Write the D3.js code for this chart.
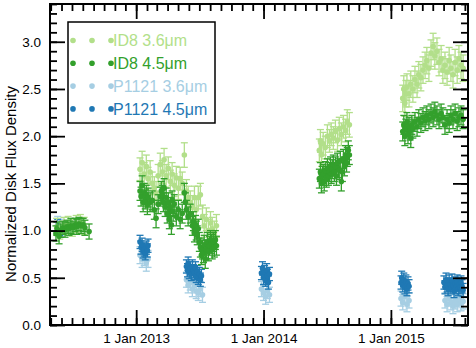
<!DOCTYPE html>
<html>
<head>
<meta charset="utf-8">
<script src="https://cdn.jsdelivr.net/npm/d3@7"></script>
<style>
  body { margin: 0; background: #fff; }
  svg { font-family: "Liberation Sans", Arial, sans-serif; }
</style>
</head>
<body>
<script>
// each point: [date, normalized flux, error]
const id8_36 = [
  ["2012-05-18",1.04,0.09],["2012-05-27",1.00,0.09],["2012-06-08",1.05,0.09],["2012-06-20",1.06,0.09],
  ["2012-07-02",1.03,0.09],["2012-07-13",1.07,0.09],["2012-07-25",1.08,0.09],["2012-08-05",1.05,0.09],
  ["2013-01-12",1.65,0.12],["2013-01-18",1.72,0.12],["2013-01-24",1.60,0.12],["2013-01-30",1.68,0.12],
  ["2013-02-04",1.55,0.12],["2013-02-10",1.62,0.12],["2013-02-16",1.50,0.12],["2013-02-22",1.45,0.12],
  ["2013-02-27",1.40,0.12],["2013-03-05",1.58,0.12],["2013-03-11",1.70,0.12],["2013-03-17",1.62,0.12],
  ["2013-03-22",1.75,0.12],["2013-03-28",1.58,0.12],["2013-04-03",1.66,0.12],["2013-04-09",1.52,0.12],
  ["2013-04-14",1.60,0.12],["2013-04-20",1.48,0.12],["2013-04-26",1.56,0.12],["2013-05-02",1.45,0.12],
  ["2013-05-07",1.55,0.12],["2013-05-13",1.50,0.12],["2013-05-19",1.80,0.13],["2013-05-25",1.42,0.12],
  ["2013-05-30",1.35,0.12],["2013-06-05",1.30,0.12],["2013-06-11",1.25,0.12],["2013-06-17",1.35,0.12],
  ["2013-06-22",1.22,0.12],["2013-06-28",1.35,0.12],["2013-07-04",1.38,0.12],["2013-07-10",1.15,0.12],
  ["2013-07-15",1.05,0.12],["2013-07-21",1.12,0.12],["2013-07-27",1.00,0.12],["2013-08-02",1.08,0.12],
  ["2013-08-07",1.02,0.12],["2013-08-13",0.98,0.12],["2013-08-19",1.05,0.12],
  ["2014-06-10",1.85,0.12],["2014-06-13",1.95,0.12],["2014-06-16",1.80,0.12],["2014-06-21",1.92,0.12],
  ["2014-06-27",1.88,0.12],["2014-07-03",2.00,0.12],["2014-07-09",1.95,0.12],["2014-07-14",2.02,0.12],
  ["2014-07-20",1.98,0.12],["2014-07-26",2.05,0.12],["2014-08-01",1.96,0.12],["2014-08-06",2.08,0.12],
  ["2014-08-12",2.02,0.12],["2014-08-18",2.10,0.12],["2014-08-24",2.06,0.12],["2014-08-29",2.15,0.13],
  ["2014-09-04",2.12,0.13],
  ["2015-02-04",2.40,0.14],["2015-02-07",2.50,0.14],["2015-02-10",2.35,0.14],["2015-02-13",2.45,0.14],
  ["2015-02-16",2.52,0.14],["2015-02-22",2.45,0.14],["2015-02-27",2.55,0.14],["2015-03-05",2.50,0.14],
  ["2015-03-11",2.60,0.14],["2015-03-17",2.55,0.14],["2015-03-22",2.65,0.14],["2015-03-28",2.62,0.14],
  ["2015-04-03",2.70,0.14],["2015-04-09",2.75,0.14],["2015-04-14",2.80,0.14],["2015-04-20",2.72,0.14],
  ["2015-04-26",2.88,0.14],["2015-05-02",2.95,0.14],["2015-05-07",2.85,0.14],["2015-05-13",2.90,0.14],
  ["2015-05-19",2.78,0.14],["2015-05-25",2.82,0.14],["2015-05-30",2.70,0.14],["2015-06-05",2.75,0.14],
  ["2015-06-11",2.68,0.14],["2015-06-17",2.80,0.14],["2015-06-22",2.72,0.14],["2015-06-28",2.65,0.14],
  ["2015-07-04",2.78,0.14],["2015-07-10",2.70,0.14],["2015-07-15",2.82,0.14],["2015-07-21",2.75,0.14],
  ["2015-07-27",2.72,0.14]
];

const id8_45 = [
  ["2012-05-16",0.97,0.08],["2012-05-19",1.02,0.07],["2012-05-25",0.94,0.08],["2012-05-30",1.00,0.07],
  ["2012-06-05",1.03,0.07],["2012-06-11",1.01,0.08],["2012-06-17",1.04,0.07],["2012-06-22",1.02,0.07],
  ["2012-06-28",1.05,0.08],["2012-07-04",1.03,0.07],["2012-07-10",1.06,0.07],["2012-07-15",1.04,0.08],
  ["2012-07-21",1.07,0.07],["2012-07-27",1.05,0.08],["2012-08-02",1.06,0.07],["2012-08-07",1.03,0.08],
  ["2012-08-19",0.99,0.08],
  ["2013-01-12",1.42,0.10],["2013-01-15",1.36,0.10],["2013-01-18",1.48,0.10],["2013-01-21",1.30,0.10],
  ["2013-01-24",1.40,0.10],["2013-01-27",1.33,0.10],["2013-01-30",1.38,0.10],["2013-02-02",1.27,0.10],
  ["2013-02-04",1.35,0.10],["2013-02-10",1.30,0.10],["2013-02-16",1.32,0.10],["2013-02-22",1.22,0.10],
  ["2013-02-27",1.13,0.10],["2013-03-05",1.28,0.10],["2013-03-11",1.36,0.10],["2013-03-14",1.42,0.10],
  ["2013-03-17",1.38,0.10],["2013-03-20",1.30,0.10],["2013-03-22",1.45,0.10],["2013-03-25",1.25,0.10],
  ["2013-03-28",1.35,0.10],["2013-03-31",1.18,0.10],["2013-04-03",1.30,0.10],["2013-04-06",1.12,0.10],
  ["2013-04-09",1.25,0.10],["2013-04-12",1.06,0.10],["2013-04-14",1.32,0.10],["2013-04-17",1.20,0.10],
  ["2013-04-20",1.28,0.10],["2013-04-26",1.15,0.10],["2013-05-02",1.22,0.10],["2013-05-07",1.12,0.10],
  ["2013-05-13",1.18,0.10],["2013-05-19",1.40,0.10],["2013-05-22",1.30,0.10],["2013-05-25",1.22,0.10],
  ["2013-05-30",1.15,0.10],["2013-06-05",1.18,0.10],["2013-06-11",1.05,0.10],["2013-06-14",1.10,0.10],
  ["2013-06-17",0.98,0.10],["2013-06-20",1.06,0.10],["2013-06-22",1.00,0.10],["2013-06-25",0.95,0.10],
  ["2013-06-28",1.02,0.10],["2013-07-01",0.88,0.10],["2013-07-04",0.82,0.10],["2013-07-07",0.74,0.10],
  ["2013-07-10",0.80,0.10],["2013-07-13",0.76,0.10],["2013-07-15",0.85,0.10],["2013-07-18",0.70,0.10],
  ["2013-07-21",0.80,0.10],["2013-07-24",0.88,0.10],["2013-07-27",0.78,0.10],["2013-07-30",0.84,0.10],
  ["2013-08-02",0.90,0.10],["2013-08-05",0.86,0.10],["2013-08-07",0.80,0.10],["2013-08-10",0.88,0.10],
  ["2013-08-13",0.82,0.10],["2013-08-16",0.90,0.10],["2013-08-19",0.84,0.10],
  ["2014-06-10",1.55,0.10],["2014-06-13",1.62,0.10],["2014-06-16",1.50,0.10],["2014-06-19",1.58,0.10],
  ["2014-06-21",1.60,0.10],["2014-06-24",1.52,0.10],["2014-06-27",1.63,0.10],["2014-06-30",1.56,0.10],
  ["2014-07-03",1.66,0.10],["2014-07-06",1.58,0.10],["2014-07-09",1.62,0.10],["2014-07-12",1.68,0.10],
  ["2014-07-14",1.60,0.10],["2014-07-17",1.65,0.10],["2014-07-20",1.70,0.10],["2014-07-23",1.62,0.10],
  ["2014-07-26",1.68,0.10],["2014-07-29",1.58,0.10],["2014-08-01",1.72,0.10],["2014-08-04",1.66,0.10],
  ["2014-08-06",1.64,0.10],["2014-08-09",1.74,0.10],["2014-08-12",1.52,0.10],["2014-08-15",1.62,0.10],
  ["2014-08-18",1.76,0.10],["2014-08-21",1.68,0.10],["2014-08-24",1.80,0.10],["2014-08-27",1.72,0.10],
  ["2014-08-29",1.78,0.10],["2014-09-01",1.85,0.10],["2014-09-04",1.80,0.10],
  ["2015-02-04",2.05,0.10],["2015-02-07",2.12,0.10],["2015-02-10",2.00,0.10],["2015-02-13",2.08,0.10],
  ["2015-02-16",2.15,0.10],["2015-02-19",2.02,0.10],["2015-02-22",2.10,0.10],["2015-02-25",2.06,0.10],
  ["2015-02-27",1.98,0.10],["2015-03-02",2.12,0.10],["2015-03-05",2.08,0.10],["2015-03-11",2.15,0.10],
  ["2015-03-17",2.10,0.10],["2015-03-22",2.18,0.10],["2015-03-28",2.14,0.10],["2015-04-03",2.20,0.10],
  ["2015-04-09",2.16,0.10],["2015-04-14",2.22,0.10],["2015-04-20",2.18,0.10],["2015-04-26",2.24,0.10],
  ["2015-05-02",2.20,0.10],["2015-05-07",2.26,0.10],["2015-05-13",2.22,0.10],["2015-05-19",2.18,0.10],
  ["2015-05-25",2.24,0.10],["2015-05-30",2.20,0.10],["2015-06-05",2.12,0.10],["2015-06-11",2.18,0.10],
  ["2015-06-17",2.14,0.10],["2015-06-22",2.22,0.10],["2015-06-28",2.18,0.10],["2015-07-04",2.24,0.10],
  ["2015-07-10",2.16,0.10],["2015-07-15",2.20,0.10],["2015-07-21",2.22,0.10],["2015-07-27",2.18,0.10]
];

const p1121_36 = [
  ["2012-05-21",1.06,0.09],["2012-05-27",1.03,0.09],
  ["2013-01-12",0.74,0.09],["2013-01-18",0.70,0.09],["2013-01-24",0.72,0.09],["2013-01-30",0.66,0.09],
  ["2013-02-04",0.70,0.09],
  ["2013-05-25",0.48,0.08],["2013-05-30",0.42,0.08],["2013-06-05",0.45,0.08],["2013-06-11",0.38,0.08],
  ["2013-06-17",0.42,0.08],["2013-06-22",0.36,0.08],["2013-06-28",0.34,0.08],["2013-07-04",0.38,0.08],
  ["2013-07-10",0.32,0.08],
  ["2013-12-26",0.38,0.08],["2014-01-01",0.34,0.08],["2014-01-07",0.30,0.08],["2014-01-12",0.36,0.08],
  ["2014-01-18",0.32,0.08],
  ["2015-01-30",0.28,0.08],["2015-02-04",0.24,0.08],["2015-02-10",0.30,0.08],["2015-02-16",0.22,0.08],
  ["2015-02-22",0.26,0.08],
  ["2015-06-05",0.26,0.08],["2015-06-11",0.22,0.08],["2015-06-17",0.28,0.08],["2015-06-22",0.24,0.08],
  ["2015-06-28",0.20,0.08],["2015-07-04",0.25,0.08],["2015-07-10",0.22,0.08],["2015-07-15",0.27,0.08],
  ["2015-07-21",0.23,0.08],["2015-07-27",0.25,0.08]
];

const p1121_45 = [
  ["2012-05-21",1.05,0.07],["2012-05-27",1.02,0.07],
  ["2013-01-12",0.88,0.07],["2013-01-15",0.82,0.07],["2013-01-18",0.85,0.07],["2013-01-21",0.78,0.07],
  ["2013-01-24",0.80,0.07],["2013-01-27",0.76,0.07],["2013-01-30",0.82,0.07],["2013-02-02",0.79,0.07],
  ["2013-02-04",0.84,0.07],
  ["2013-05-25",0.62,0.07],["2013-05-28",0.58,0.07],["2013-05-30",0.65,0.07],["2013-06-02",0.56,0.07],
  ["2013-06-05",0.60,0.07],["2013-06-08",0.54,0.07],["2013-06-11",0.62,0.07],["2013-06-14",0.57,0.07],
  ["2013-06-17",0.55,0.07],["2013-06-20",0.60,0.07],["2013-06-22",0.52,0.07],["2013-06-25",0.56,0.07],
  ["2013-06-28",0.50,0.07],["2013-07-01",0.54,0.07],["2013-07-04",0.48,0.07],["2013-07-07",0.52,0.07],
  ["2013-12-26",0.55,0.07],["2013-12-29",0.60,0.07],["2014-01-01",0.50,0.07],["2014-01-04",0.56,0.07],
  ["2014-01-07",0.48,0.07],["2014-01-10",0.58,0.07],["2014-01-12",0.52,0.07],["2014-01-15",0.45,0.07],
  ["2014-01-18",0.54,0.07],
  ["2015-01-30",0.45,0.07],["2015-02-01",0.50,0.07],["2015-02-04",0.42,0.07],["2015-02-07",0.48,0.07],
  ["2015-02-10",0.40,0.07],["2015-02-13",0.46,0.07],["2015-02-16",0.38,0.07],["2015-02-19",0.44,0.07],
  ["2015-02-22",0.41,0.07],
  ["2015-06-02",0.45,0.07],["2015-06-05",0.40,0.07],["2015-06-08",0.48,0.07],["2015-06-11",0.42,0.07],
  ["2015-06-14",0.38,0.07],["2015-06-17",0.46,0.07],["2015-06-20",0.43,0.07],["2015-06-22",0.40,0.07],
  ["2015-06-25",0.47,0.07],["2015-06-28",0.42,0.07],["2015-07-01",0.36,0.07],["2015-07-04",0.44,0.07],
  ["2015-07-07",0.40,0.07],["2015-07-10",0.46,0.07],["2015-07-13",0.38,0.07],["2015-07-15",0.43,0.07],
  ["2015-07-18",0.40,0.07],["2015-07-21",0.45,0.07],["2015-07-24",0.41,0.07],["2015-07-27",0.37,0.07]
];

const seriesNames = ["ID8 3.6μm", "ID8 4.5μm", "P1121 3.6μm", "P1121 4.5μm"];
const seriesColors = ["#b2df8a", "#33a02c", "#a6cee3", "#1f78b4"];
const xMajorTicks = ["2013-01-01", "2014-01-01", "2015-01-01"];
const yMajorTicks = [0, 0.5, 1.0, 1.5, 2.0, 2.5, 3.0];
const xDomain = ["2012-04-29", "2015-08-10"];
const yDomain = [0, 3.4];

const width = 476, height = 348;
const plot = {left: 50, right: 468, top: 4, bottom: 325};
const parse = d3.timeParse("%Y-%m-%d");

const x = d3.scaleTime()
  .domain(xDomain.map(parse))
  .range([plot.left, plot.right]);

const y = d3.scaleLinear()
  .domain(yDomain)
  .range([plot.bottom, plot.top]);

const svg = d3.select("body")
  .append("svg")
  .attr("width", width)
  .attr("height", height);

// data, P1121 drawn first so ID8 sits on top
const series = [
  {data: p1121_36, color: seriesColors[2]},
  {data: p1121_45, color: seriesColors[3]},
  {data: id8_36, color: seriesColors[0]},
  {data: id8_45, color: seriesColors[1]}
];

series.forEach((s) => {
  const g = svg.append("g").attr("stroke", s.color).attr("fill", s.color);
  const bars = g.selectAll("g.err")
    .data(s.data)
    .enter()
    .append("g")
    .attr("class", "err")
    .attr("stroke-width", 1.3);
  bars.append("line")
    .attr("x1", (d) => x(parse(d[0])))
    .attr("x2", (d) => x(parse(d[0])))
    .attr("y1", (d) => y(d[1] - d[2]))
    .attr("y2", (d) => y(d[1] + d[2]));
  bars.append("line")
    .attr("x1", (d) => x(parse(d[0])) - 3.5)
    .attr("x2", (d) => x(parse(d[0])) + 3.5)
    .attr("y1", (d) => y(d[1] - d[2]))
    .attr("y2", (d) => y(d[1] - d[2]));
  bars.append("line")
    .attr("x1", (d) => x(parse(d[0])) - 3.5)
    .attr("x2", (d) => x(parse(d[0])) + 3.5)
    .attr("y1", (d) => y(d[1] + d[2]))
    .attr("y2", (d) => y(d[1] + d[2]));
  g.selectAll("circle")
    .data(s.data)
    .enter()
    .append("circle")
    .attr("cx", (d) => x(parse(d[0])))
    .attr("cy", (d) => y(d[1]))
    .attr("r", 2.8)
    .attr("stroke", "none");
});

// axes, all ticks pointing inward
const yMinor = d3.range(0, 3.41, 0.1);
const xMinor = x.ticks(d3.timeMonth.every(1));
const fontSize = "13.5px";

function styleAxis(g) {
  g.select(".domain").remove();
  g.selectAll(".tick line").attr("stroke", "#000").attr("stroke-width", 1.8);
  g.selectAll("text").style("font-size", fontSize).attr("fill", "#000");
}

svg.append("g")
  .attr("transform", "translate(0," + plot.bottom + ")")
  .call(d3.axisBottom(x).tickValues(xMinor).tickSize(-7).tickFormat(""))
  .call(styleAxis);
svg.append("g")
  .attr("transform", "translate(0," + plot.bottom + ")")
  .call(d3.axisBottom(x).tickValues(xMajorTicks.map(parse)).tickSize(-15).tickPadding(8)
    .tickFormat(d3.timeFormat("1 Jan %Y")))
  .call(styleAxis);

svg.append("g")
  .attr("transform", "translate(0," + plot.top + ")")
  .call(d3.axisTop(x).tickValues(xMinor).tickSize(-7).tickFormat(""))
  .call(styleAxis);
svg.append("g")
  .attr("transform", "translate(0," + plot.top + ")")
  .call(d3.axisTop(x).tickValues(xMajorTicks.map(parse)).tickSize(-15).tickFormat(""))
  .call(styleAxis);

svg.append("g")
  .attr("transform", "translate(" + plot.left + ",0)")
  .call(d3.axisLeft(y).tickValues(yMinor).tickSize(-7).tickFormat(""))
  .call(styleAxis);
svg.append("g")
  .attr("transform", "translate(" + plot.left + ",0)")
  .call(d3.axisLeft(y).tickValues(yMajorTicks).tickSize(-15).tickPadding(9)
    .tickFormat(d3.format(".1f")))
  .call(styleAxis);

svg.append("g")
  .attr("transform", "translate(" + plot.right + ",0)")
  .call(d3.axisRight(y).tickValues(yMinor).tickSize(-7).tickFormat(""))
  .call(styleAxis);
svg.append("g")
  .attr("transform", "translate(" + plot.right + ",0)")
  .call(d3.axisRight(y).tickValues(yMajorTicks).tickSize(-15).tickFormat(""))
  .call(styleAxis);

svg.append("rect")
  .attr("x", plot.left)
  .attr("y", plot.top)
  .attr("width", plot.right - plot.left)
  .attr("height", plot.bottom - plot.top)
  .attr("fill", "none")
  .attr("stroke", "#000")
  .attr("stroke-width", 2);

svg.append("text")
  .attr("transform", "translate(10," + 184 + ") rotate(-90)")
  .attr("text-anchor", "middle")
  .attr("dominant-baseline", "central")
  .style("font-size", "15px")
  .text("Normalized Disk Flux Density");

// legend
const legend = svg.append("g");
legend.append("rect")
  .attr("x", 68)
  .attr("y", 22)
  .attr("width", 147)
  .attr("height", 101)
  .attr("fill", "#fff")
  .attr("stroke", "#000")
  .attr("stroke-width", 1.5);

const rows = legend.selectAll("g.row")
  .data(seriesNames)
  .enter()
  .append("g")
  .attr("class", "row")
  .attr("transform", (d, i) => "translate(0," + (40.5 + i * 22.8) + ")");

rows.selectAll("circle")
  .data((d, i) => [73, 92, 111].map((cx) => ({cx: cx, i: i})))
  .enter()
  .append("circle")
  .attr("cx", (d) => d.cx)
  .attr("cy", 0)
  .attr("r", 2.8)
  .attr("fill", (d) => seriesColors[d.i]);

rows.append("text")
  .attr("x", 113)
  .attr("y", 0)
  .attr("dy", "0.36em")
  .style("font-size", "16px")
  .attr("fill", (d, i) => seriesColors[i])
  .text((d) => d);
</script>
</body>
</html>
